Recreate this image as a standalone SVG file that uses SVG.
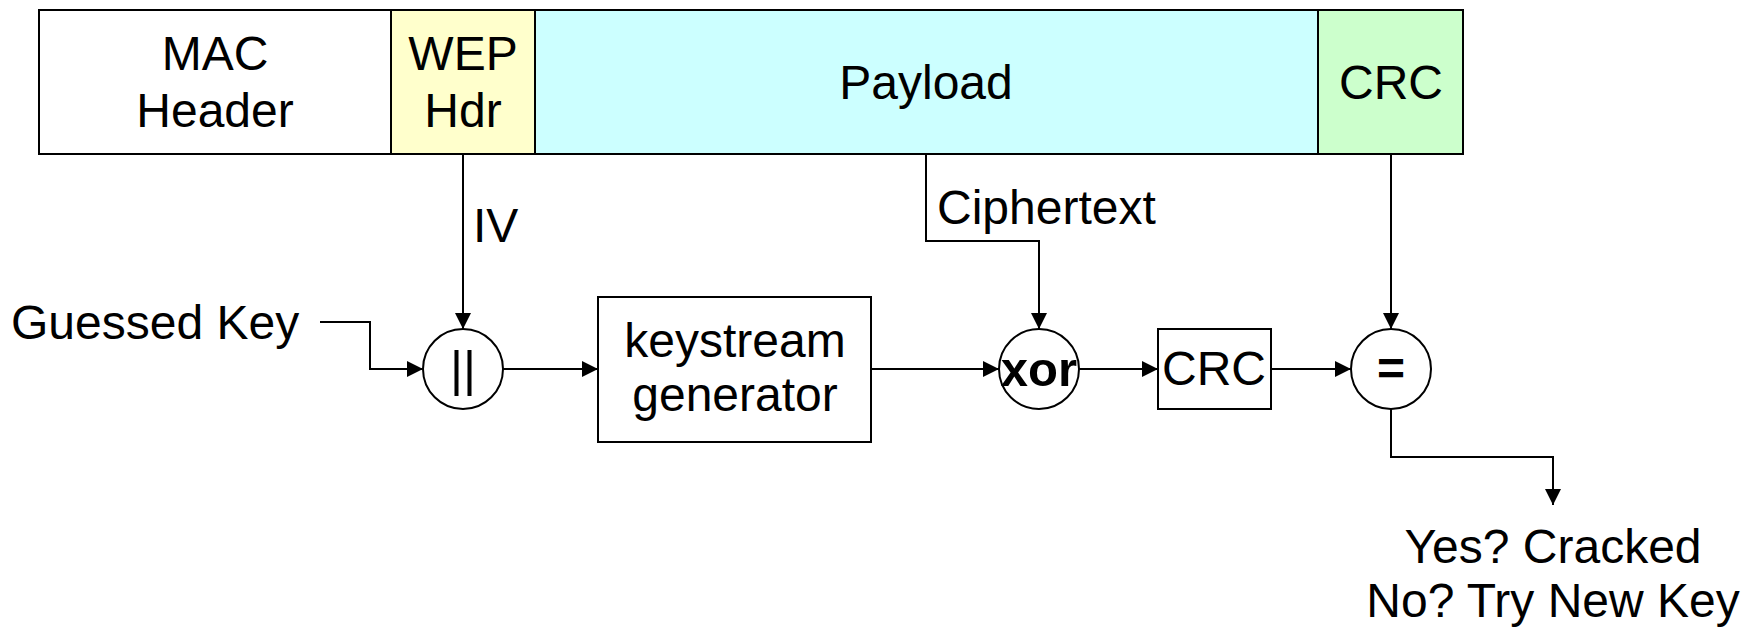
<svg xmlns="http://www.w3.org/2000/svg" width="1758" height="627" viewBox="0 0 1758 627">
<style>
text{font-family:"Liberation Sans",Arial,sans-serif;font-size:48px;fill:#000}
.c{text-anchor:middle}
.b{font-weight:bold}
.box{stroke:#000;stroke-width:2}
.ln{fill:none;stroke:#000;stroke-width:2}
</style>
<defs>
<marker id="ah" viewBox="0 0 16 16" refX="16" refY="8" markerWidth="16" markerHeight="16" markerUnits="userSpaceOnUse" orient="auto">
<path d="M0,0 L16,8 L0,16 Z" fill="#000"/>
</marker>
</defs>
<rect width="1758" height="627" fill="#fff"/>
<g id="mac-header">
<rect class="box" x="39" y="10" width="352" height="144" fill="#ffffff"/>
<text class="c" x="215" y="70">MAC</text>
<text class="c" x="215" y="127">Header</text>
</g>
<g id="wep-hdr">
<rect class="box" x="391" y="10" width="144" height="144" fill="#ffffcc"/>
<text class="c" x="463" y="70">WEP</text>
<text class="c" x="463" y="127">Hdr</text>
</g>
<g id="payload">
<rect class="box" x="535" y="10" width="783" height="144" fill="#ccffff"/>
<text class="c" x="926" y="99">Payload</text>
</g>
<g id="crc-field">
<rect class="box" x="1318" y="10" width="145" height="144" fill="#ccffcc"/>
<text class="c" x="1391" y="99">CRC</text>
</g>
<g id="guessed-key">
<text x="11" y="339">Guessed Key</text>
</g>
<g id="concat">
<circle class="box" cx="463" cy="369" r="40" fill="#fff"/>
<text class="c" x="463" y="386" style="font-size:50px">||</text>
</g>
<g id="keystream">
<rect class="box" x="598" y="297" width="273" height="145" fill="#fff"/>
<text class="c" x="735" y="357">keystream</text>
<text class="c" x="735" y="411">generator</text>
</g>
<g id="xor">
<circle class="box" cx="1039" cy="369" r="40" fill="#fff"/>
<text class="c b" x="1039" y="386" style="font-size:49px">xor</text>
</g>
<g id="crc-calc">
<rect class="box" x="1158" y="329" width="113" height="80" fill="#fff"/>
<text class="c" x="1214" y="385">CRC</text>
</g>
<g id="equals">
<circle class="box" cx="1391" cy="369" r="40" fill="#fff"/>
<text class="c b" x="1391" y="385">=</text>
</g>
<g id="result">
<text class="c" x="1553" y="563">Yes? Cracked</text>
<text class="c" x="1553" y="617">No? Try New Key</text>
</g>
<g id="connectors">
<path class="ln" d="M463,154 V329" marker-end="url(#ah)"/>
<text x="473" y="242">IV</text>
<path class="ln" d="M320,322 H370 V369 H423" marker-end="url(#ah)"/>
<path class="ln" d="M503,369 H598" marker-end="url(#ah)"/>
<path class="ln" d="M871,369 H999" marker-end="url(#ah)"/>
<path class="ln" d="M926,154 V241 H1039 V329" marker-end="url(#ah)"/>
<text x="937" y="224">Ciphertext</text>
<path class="ln" d="M1079,369 H1158" marker-end="url(#ah)"/>
<path class="ln" d="M1271,369 H1351" marker-end="url(#ah)"/>
<path class="ln" d="M1391,154 V329" marker-end="url(#ah)"/>
<path class="ln" d="M1391,409 V457 H1553 V505" marker-end="url(#ah)"/>
</g>
</svg>
